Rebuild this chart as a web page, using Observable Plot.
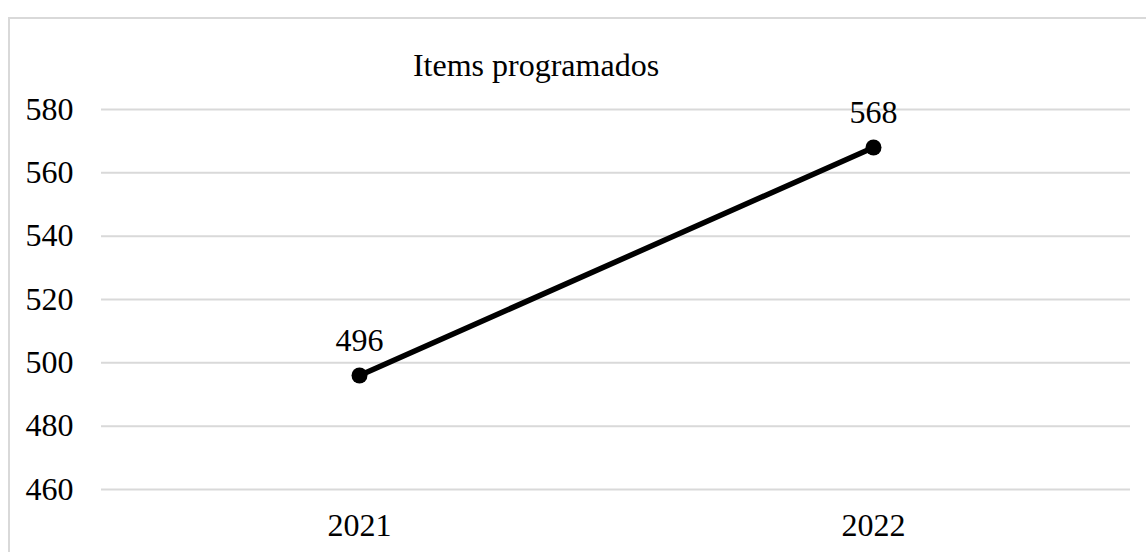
<!DOCTYPE html>
<html>
<head>
<meta charset="utf-8">
<script src="https://cdn.jsdelivr.net/npm/d3@7"></script>
<script src="https://cdn.jsdelivr.net/npm/@observablehq/plot@0.6"></script>
<style>
  html, body { margin: 0; padding: 0; background: #fff; overflow: hidden; }
  #wrap { position: relative; width: 1146px; height: 552px; }
  #frame { position: absolute; left: 8px; top: 17px; width: 1300px; height: 700px;
           border: 2px solid #d9d9d9; box-sizing: border-box; pointer-events: none; }
  #chart { position: absolute; left: 0; top: 0; }
</style>
</head>
<body>
<div id="wrap"><div id="frame"></div><div id="chart"></div></div>
<script>
// Items programados por año
const years = ["2021", "2022"];
const items = [496, 568];
const yTicks = [460, 480, 500, 520, 540, 560, 580];
const title = "Items programados";

const data = years.map((year, i) => ({year, value: items[i]}));

const serif = "'Liberation Serif', 'Times New Roman', serif";
const fs = 32;

const chart = Plot.plot({
  width: 1146,
  height: 552,
  marginLeft: 101,
  marginRight: 16,
  marginTop: 109,
  marginBottom: 63,
  style: {fontFamily: serif, fontSize: fs + "px", color: "#000", background: "transparent"},
  x: {type: "point", domain: years, padding: 0.5, label: null},
  y: {domain: [460, 580], label: null},
  marks: [
    Plot.gridY(yTicks, {stroke: "#d9d9d9", strokeOpacity: 1, strokeWidth: 2}),
    Plot.axisX({tickSize: 0, tickPadding: 24, fontSize: fs, fontFamily: serif, fill: "#000", label: null}),
    Plot.axisY(yTicks, {tickSize: 0, tickPadding: 28, fontSize: fs, fontFamily: serif, fill: "#000", label: null}),
    Plot.line(data, {x: "year", y: "value", stroke: "#000", strokeWidth: 5.5}),
    Plot.dot(data, {x: "year", y: "value", r: 8, fill: "#000", stroke: "none"}),
    Plot.text(data, {x: "year", y: "value", text: d => String(d.value), dy: -35, fontSize: fs, fontFamily: serif, fill: "#000"}),
    Plot.text([title], {frameAnchor: "top", lineAnchor: "middle", dy: -44, dx: -80, text: d => d, fontSize: fs, fontFamily: serif, fill: "#000"})
  ]
});
document.getElementById("chart").appendChild(chart);
</script>
</body>
</html>
